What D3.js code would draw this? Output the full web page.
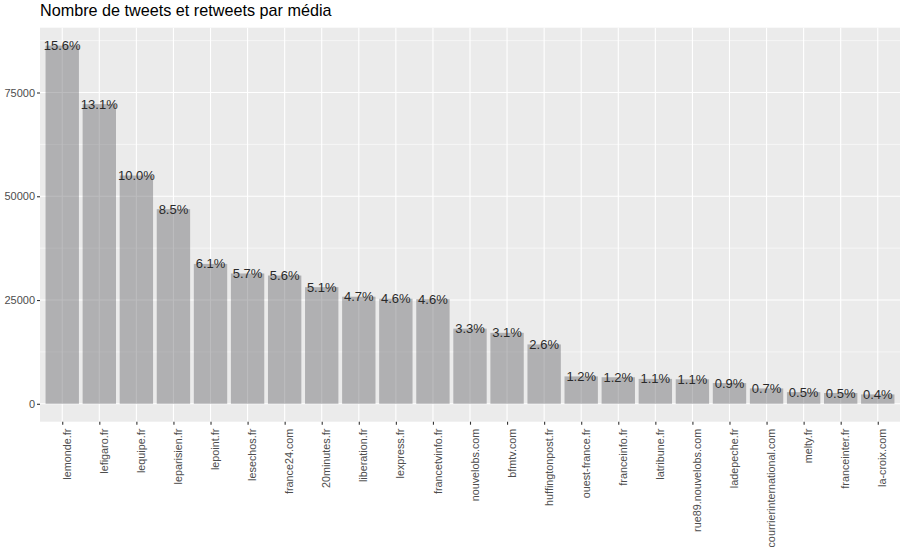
<!DOCTYPE html>
<html><head><meta charset="utf-8">
<script src="https://cdn.jsdelivr.net/npm/d3@7"></script>
<style>body{margin:0;background:#fff}svg{display:block}text{font-family:"Liberation Sans",Arial,sans-serif}</style>
</head><body><svg id="c" width="900" height="549"></svg>
<script>
const categories = ["lemonde.fr","lefigaro.fr","lequipe.fr","leparisien.fr","lepoint.fr","lesechos.fr","france24.com","20minutes.fr","liberation.fr","lexpress.fr","francetvinfo.fr","nouvelobs.com","bfmtv.com","huffingtonpost.fr","ouest-france.fr","franceinfo.fr","latribune.fr","rue89.nouvelobs.com","ladepeche.fr","courrierinternational.com","melty.fr","franceinter.fr","la-croix.com"];
const counts = [86300,72200,55000,46900,33700,31400,30900,28100,25800,25300,25200,18100,17100,14300,6600,6400,6000,5900,5000,3700,2800,2600,2250];
const pctLabels = ["15.6%","13.1%","10.0%","8.5%","6.1%","5.7%","5.6%","5.1%","4.7%","4.6%","4.6%","3.3%","3.1%","2.6%","1.2%","1.2%","1.1%","1.1%","0.9%","0.7%","0.5%","0.5%","0.4%"];
const yTicks = [0,25000,50000,75000];
const yMinor = [12500,37500,62500,87500];
const title = "Nombre de tweets et retweets par média";

const svg = d3.select("#c");
const L=40, R=900, T=27.7, B=421.7;
const maxV = d3.max(counts);
const y = d3.scaleLinear().domain([-0.05*maxV, 1.05*maxV]).range([B, T]);
const step = (R-L)/(categories.length - 1 + 1.2);
const xc = d3.scalePoint().domain(categories).range([L+0.6*step, R-0.6*step]);
const bw = 0.9*step;

svg.append("text").attr("x",40).attr("y",16).attr("font-size",16.2).attr("fill","#000").text(title);

const g = svg.append("g");
g.append("rect").attr("x",L).attr("y",T).attr("width",R-L).attr("height",B-T).attr("fill","#EBEBEB");
g.selectAll(".ymin").data(yMinor.filter(v=>y(v)>T)).join("line")
 .attr("x1",L).attr("x2",R).attr("y1",d=>y(d)).attr("y2",d=>y(d)).attr("stroke","#fff").attr("stroke-width",0.55);
g.selectAll(".ymaj").data(yTicks).join("line")
 .attr("x1",L).attr("x2",R).attr("y1",d=>y(d)).attr("y2",d=>y(d)).attr("stroke","#fff").attr("stroke-width",1.1);
g.selectAll(".xmaj").data(categories).join("line")
 .attr("x1",d=>xc(d)).attr("x2",d=>xc(d)).attr("y1",T).attr("y2",B).attr("stroke","#fff").attr("stroke-width",1.1);

g.selectAll(".bar").data(categories).join("rect")
 .attr("x",d=>xc(d)-bw/2).attr("width",bw)
 .attr("y",(d,i)=>y(counts[i])).attr("height",(d,i)=>y(0)-y(counts[i]))
 .attr("fill","#57575c").attr("fill-opacity",0.4);

g.selectAll(".lab").data(categories).join("text")
 .attr("x",d=>xc(d)).attr("y",(d,i)=>y(counts[i])).attr("dy","0.35em")
 .attr("text-anchor","middle").attr("font-size",13).attr("fill","#2a2a2a")
 .text((d,i)=>pctLabels[i]);

const ya = svg.append("g").attr("transform",`translate(${L},0)`)
 .call(d3.axisLeft(y).tickValues(yTicks).tickSize(3).tickPadding(2).tickFormat(d3.format("d")));
ya.select(".domain").remove();
ya.selectAll("line").attr("stroke","#333").attr("stroke-width",1.1);
ya.selectAll("text").attr("font-size",11).attr("fill","#4D4D4D").attr("font-family","Liberation Sans, Arial, sans-serif");

const xa = svg.append("g").attr("transform",`translate(0,${B})`)
 .call(d3.axisBottom(xc).tickSize(3).tickPadding(0));
xa.select(".domain").remove();
xa.selectAll("line").attr("stroke","#333").attr("stroke-width",1.1);
xa.selectAll("text").attr("font-size",10.8).attr("fill","#4D4D4D").attr("font-family","Liberation Sans, Arial, sans-serif")
 .attr("transform","rotate(-90)").attr("text-anchor","end").attr("x",-7).attr("y",0).attr("dy","0.75em");
</script></body></html>
